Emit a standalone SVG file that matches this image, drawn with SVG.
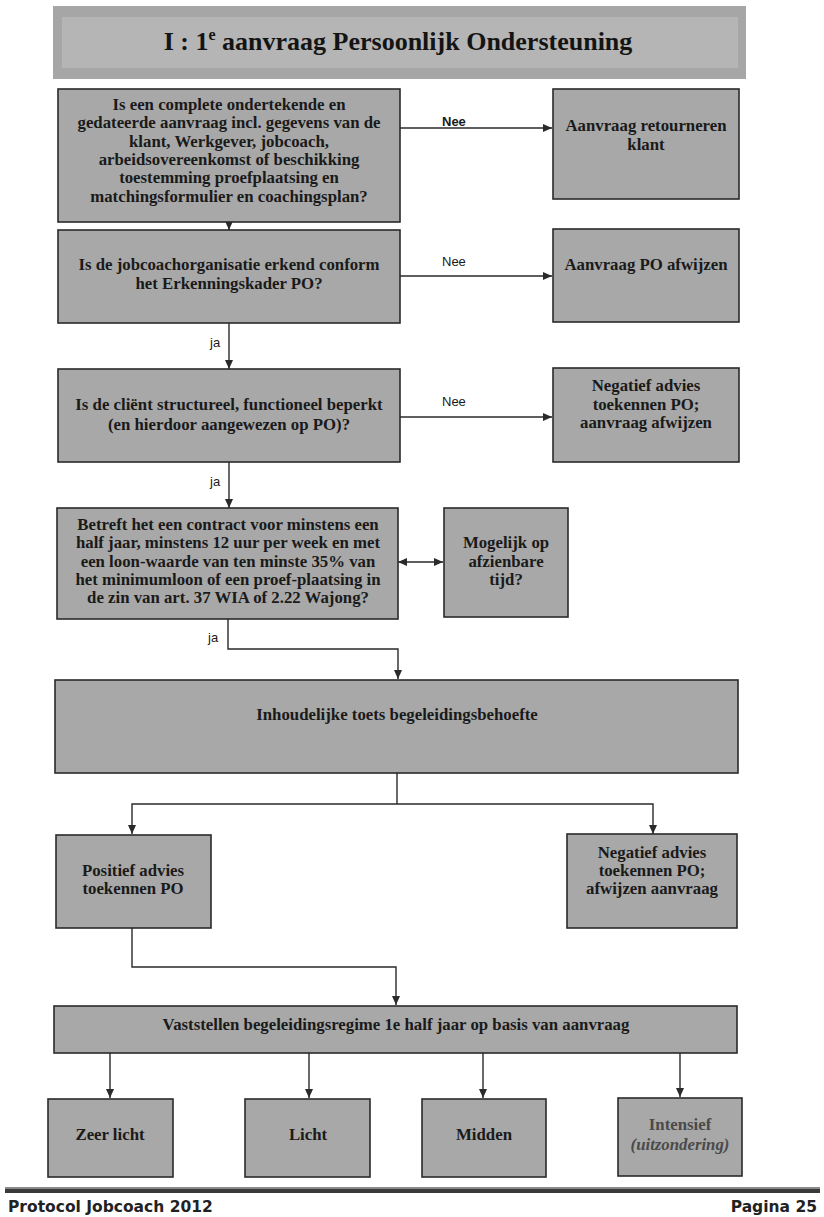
<svg xmlns="http://www.w3.org/2000/svg" width="824" height="1217" viewBox="0 0 824 1217">
<style>
.bg{fill:#ffffff}
.box{fill:#a8a8a8;stroke:#2a2a2a;stroke-width:1.6}
.t{font-family:"Liberation Serif",serif;font-weight:bold;font-size:16.8px;fill:#1a1a1a;text-anchor:middle}
.lbl{font-family:"Liberation Sans",sans-serif;font-size:13px;fill:#1a1a1a}
.ln{fill:none;stroke:#2a2a2a;stroke-width:1.4}
.foot{font-family:"DejaVu Sans",sans-serif;font-weight:bold;font-size:15.5px;fill:#222}
</style>
<defs>
<marker id="ah" markerWidth="10" markerHeight="10" refX="9" refY="5" orient="auto" markerUnits="userSpaceOnUse">
<path d="M0,1 L9,5 L0,9 Z" fill="#2a2a2a"/>
</marker>
<marker id="ahs" markerWidth="10" markerHeight="10" refX="9" refY="5" orient="auto-start-reverse" markerUnits="userSpaceOnUse">
<path d="M0,1 L9,5 L0,9 Z" fill="#2a2a2a"/>
</marker>
</defs>
<rect class="bg" x="0" y="0" width="824" height="1217"/>

<g id="title">
<rect x="53" y="6" width="693" height="73" fill="#a6a6a6"/>
<rect x="62" y="17" width="676" height="51" fill="#b5b5b5"/>
<text x="398" y="50" style="font-family:'Liberation Serif',serif;font-weight:bold;font-size:26px;fill:#141414;text-anchor:middle">I : 1<tspan font-size="16" dy="-10">e</tspan><tspan dy="10"> aanvraag Persoonlijk Ondersteuning</tspan></text>
</g>

<g id="connectors">
<line class="ln" x1="400" y1="128" x2="552" y2="128" marker-end="url(#ah)"/>
<line class="ln" x1="229" y1="222" x2="229" y2="230" marker-end="url(#ah)"/>
<line class="ln" x1="400" y1="276" x2="552" y2="276" marker-end="url(#ah)"/>
<line class="ln" x1="229" y1="323" x2="229" y2="369" marker-end="url(#ah)"/>
<line class="ln" x1="400" y1="417" x2="552" y2="417" marker-end="url(#ah)"/>
<line class="ln" x1="229" y1="462" x2="229" y2="508" marker-end="url(#ah)"/>
<line class="ln" x1="398" y1="562" x2="443" y2="562" marker-start="url(#ahs)" marker-end="url(#ah)"/>
<polyline class="ln" points="228,619 228,649 398,649 398,679" marker-end="url(#ah)"/>
<line class="ln" x1="397" y1="773" x2="397" y2="804"/>
<polyline class="ln" points="132,834 132,804 653,804 653,834" marker-start="url(#ahs)" marker-end="url(#ah)"/>
<polyline class="ln" points="132,928 132,967 396,967 396,1005" marker-end="url(#ah)"/>
<line class="ln" x1="110" y1="1053" x2="110" y2="1098" marker-end="url(#ah)"/>
<line class="ln" x1="309" y1="1053" x2="309" y2="1098" marker-end="url(#ah)"/>
<line class="ln" x1="483" y1="1053" x2="483" y2="1098" marker-end="url(#ah)"/>
<line class="ln" x1="680" y1="1053" x2="680" y2="1097" marker-end="url(#ah)"/>
<text class="lbl" x="442" y="126" style="font-weight:bold">Nee</text>
<text class="lbl" x="442" y="266">Nee</text>
<text class="lbl" x="442" y="406">Nee</text>
<text class="lbl" x="210" y="347">ja</text>
<text class="lbl" x="210" y="486">ja</text>
<text class="lbl" x="208" y="642">ja</text>
</g>

<g id="q1">
<rect class="box" x="58" y="89" width="342" height="133"/>
<text class="t" x="229" y="110">Is een complete ondertekende en</text>
<text class="t" x="229" y="128">gedateerde aanvraag incl. gegevens van de</text>
<text class="t" x="229" y="147">klant, Werkgever, jobcoach,</text>
<text class="t" x="229" y="165">arbeidsovereenkomst of beschikking</text>
<text class="t" x="229" y="183">toestemming proefplaatsing en</text>
<text class="t" x="229" y="202">matchingsformulier en coachingsplan?</text>
</g>

<g id="a1">
<rect class="box" x="553" y="89" width="186" height="110"/>
<text class="t" x="646" y="131">Aanvraag retourneren</text>
<text class="t" x="646" y="150">klant</text>
</g>

<g id="q2">
<rect class="box" x="58" y="230" width="342" height="93"/>
<text class="t" x="229" y="270">Is de jobcoachorganisatie erkend conform</text>
<text class="t" x="229" y="289">het Erkenningskader PO?</text>
</g>

<g id="a2">
<rect class="box" x="553" y="229" width="186" height="93"/>
<text class="t" x="646" y="270">Aanvraag PO afwijzen</text>
</g>

<g id="q3">
<rect class="box" x="58" y="369" width="342" height="93"/>
<text class="t" x="229" y="410">Is de cliënt structureel, functioneel beperkt</text>
<text class="t" x="229" y="430">(en hierdoor aangewezen op PO)?</text>
</g>

<g id="a3">
<rect class="box" x="553" y="368" width="186" height="94"/>
<text class="t" x="646" y="391">Negatief advies</text>
<text class="t" x="646" y="410">toekennen PO;</text>
<text class="t" x="646" y="428">aanvraag afwijzen</text>
</g>

<g id="q4">
<rect class="box" x="57" y="508" width="341" height="111"/>
<text class="t" x="228" y="530">Betreft het een contract voor minstens een</text>
<text class="t" x="228" y="548">half jaar, minstens 12 uur per week en met</text>
<text class="t" x="228" y="567">een loon-waarde van ten minste 35% van</text>
<text class="t" x="228" y="585">het minimumloon of een proef-plaatsing in</text>
<text class="t" x="228" y="603">de zin van art. 37 WIA of 2.22 Wajong?</text>
</g>

<g id="mogelijk">
<rect class="box" x="444" y="508" width="124" height="109"/>
<text class="t" x="506" y="548">Mogelijk op</text>
<text class="t" x="506" y="567">afzienbare</text>
<text class="t" x="506" y="585">tijd?</text>
</g>

<g id="toets">
<rect class="box" x="55" y="680" width="683" height="93"/>
<text class="t" x="397" y="720">Inhoudelijke toets begeleidingsbehoefte</text>
</g>

<g id="positief">
<rect class="box" x="56" y="835" width="155" height="93"/>
<text class="t" x="133" y="876">Positief advies</text>
<text class="t" x="133" y="894">toekennen PO</text>
</g>

<g id="negatief">
<rect class="box" x="567" y="834" width="170" height="94"/>
<text class="t" x="652" y="858">Negatief advies</text>
<text class="t" x="652" y="876">toekennen PO;</text>
<text class="t" x="652" y="894">afwijzen aanvraag</text>
</g>

<g id="vaststellen">
<rect class="box" x="54" y="1006" width="683" height="47"/>
<text class="t" x="396" y="1030">Vaststellen begeleidingsregime 1e half jaar op basis van aanvraag</text>
</g>

<g id="zeerlicht">
<rect class="box" x="48" y="1099" width="125" height="78"/>
<text class="t" x="110" y="1140">Zeer licht</text>
</g>

<g id="licht">
<rect class="box" x="245" y="1099" width="125" height="78"/>
<text class="t" x="308" y="1140">Licht</text>
</g>

<g id="midden">
<rect class="box" x="422" y="1099" width="124" height="78"/>
<text class="t" x="484" y="1140">Midden</text>
</g>

<g id="intensief">
<rect class="box" x="618" y="1098" width="124" height="78"/>
<text class="t" x="680" y="1130" style="fill:#4a4a4a">Intensief</text>
<text class="t" x="680" y="1150" style="fill:#4a4a4a;font-style:italic">(uitzondering)</text>
</g>

<g id="footer">
<rect x="5" y="1187" width="815" height="2" fill="#8a8a8a"/>
<rect x="5" y="1189" width="815" height="4" fill="#3a3a3a"/>
<text class="foot" x="8" y="1212">Protocol Jobcoach 2012</text>
<text class="foot" x="817" y="1212" text-anchor="end">Pagina 25</text>
</g>
</svg>
